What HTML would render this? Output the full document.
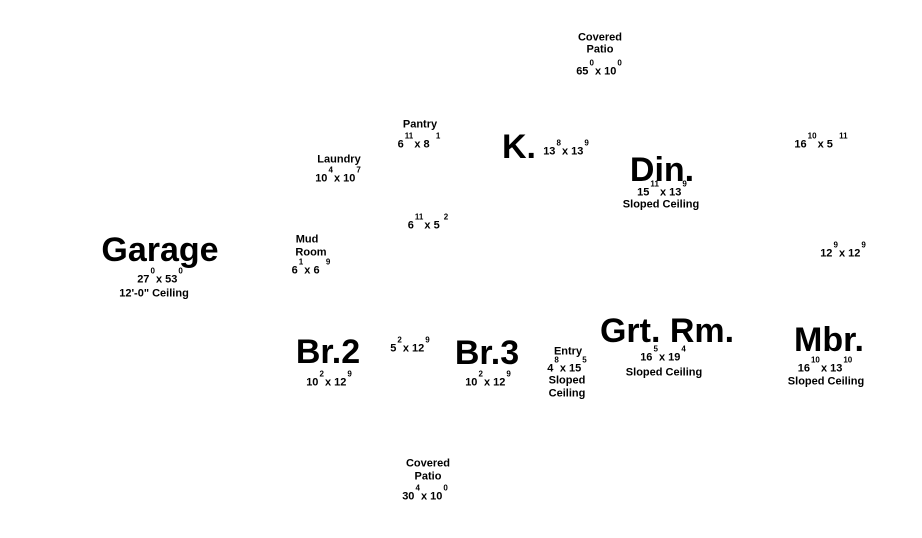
<!DOCTYPE html>
<html><head><meta charset="utf-8"><style>
html,body{margin:0;padding:0;background:#fff;}
body{width:922px;height:538px;position:relative;overflow:hidden;font-family:"Liberation Sans",Arial,sans-serif;font-weight:bold;color:#000;}
.t{position:absolute;transform:translate(-50%,-50%);white-space:nowrap;line-height:1;font-size:11px;}
.b{font-size:34px;}
sup{font-size:8px;position:relative;top:-7px;vertical-align:top;line-height:1;margin:0 -2px 0 1px;}
</style></head><body>
<div class="t" style="left:600px;top:38px">Covered</div>
<div class="t" style="left:600px;top:50px">Patio</div>
<div class="t" style="left:598px;top:72px">65<sup>0</sup> x 10<sup>0</sup></div>

<div class="t" style="left:420px;top:125px">Pantry</div>
<div class="t" style="left:418px;top:145px">6<sup>11</sup> x 8 <sup>&nbsp;1</sup></div>

<div class="t b" style="left:519px;top:147px">K.</div>
<div class="t" style="left:565px;top:152px">13<sup>8</sup> x 13<sup>9</sup></div>

<div class="t b" style="left:662px;top:170px">Din.</div>
<div class="t" style="left:661px;top:193px">15<sup>11</sup> x 13<sup>9</sup></div>
<div class="t" style="left:661px;top:205px">Sloped Ceiling</div>

<div class="t" style="left:820px;top:145px">16<sup>10</sup> x 5 <sup>&nbsp;11</sup></div>

<div class="t" style="left:339px;top:160px">Laundry</div>
<div class="t" style="left:337px;top:179px">10<sup>4</sup> x 10<sup>7</sup></div>

<div class="t" style="left:427px;top:226px">6<sup>11</sup> x 5 <sup>2</sup></div>

<div class="t" style="left:307px;top:240px">Mud</div>
<div class="t" style="left:311px;top:253px">Room</div>
<div class="t" style="left:310px;top:271px">6<sup>1</sup> x 6 <sup>&nbsp;9</sup></div>

<div class="t b" style="left:160px;top:250px">Garage</div>
<div class="t" style="left:159px;top:280px">27<sup>0</sup> x 53<sup>0</sup></div>
<div class="t" style="left:154px;top:294px">12'-0" Ceiling</div>

<div class="t" style="left:842px;top:254px">12<sup>9</sup> x 12<sup>9</sup></div>

<div class="t b" style="left:328px;top:352px">Br.2</div>
<div class="t" style="left:328px;top:383px">10<sup>2</sup> x 12<sup>9</sup></div>

<div class="t" style="left:409px;top:349px">5<sup>2</sup> x 12<sup>9</sup></div>

<div class="t b" style="left:487px;top:353px">Br.3</div>
<div class="t" style="left:487px;top:383px">10<sup>2</sup> x 12<sup>9</sup></div>

<div class="t" style="left:568px;top:352px">Entry</div>
<div class="t" style="left:566px;top:369px">4<sup>8</sup> x 15<sup>5</sup></div>
<div class="t" style="left:567px;top:381px">Sloped</div>
<div class="t" style="left:567px;top:394px">Ceiling</div>

<div class="t b" style="left:667px;top:331px">Grt. Rm.</div>
<div class="t" style="left:662px;top:358px">16<sup>5</sup> x 19<sup>4</sup></div>
<div class="t" style="left:664px;top:373px">Sloped Ceiling</div>

<div class="t b" style="left:829px;top:340px">Mbr.</div>
<div class="t" style="left:824px;top:369px">16<sup>10</sup> x 13<sup>10</sup></div>
<div class="t" style="left:826px;top:382px">Sloped Ceiling</div>

<div class="t" style="left:428px;top:464px">Covered</div>
<div class="t" style="left:428px;top:477px">Patio</div>
<div class="t" style="left:424px;top:497px">30<sup>4</sup> x 10<sup>0</sup></div>
</body></html>
